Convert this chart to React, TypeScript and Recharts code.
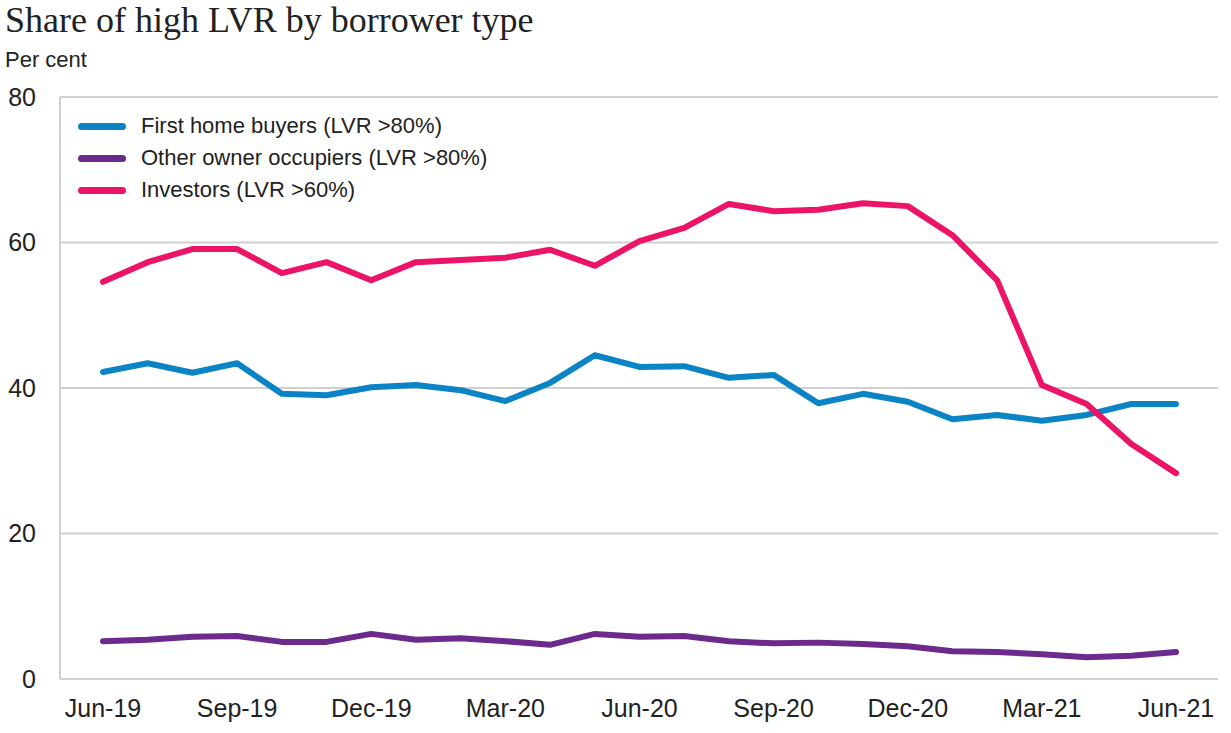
import React from 'react'
import { LineChart, Line, XAxis, YAxis, CartesianGrid, Legend } from 'recharts'

const months = [
  'Jun-19', 'Jul-19', 'Aug-19', 'Sep-19', 'Oct-19', 'Nov-19', 'Dec-19',
  'Jan-20', 'Feb-20', 'Mar-20', 'Apr-20', 'May-20', 'Jun-20', 'Jul-20',
  'Aug-20', 'Sep-20', 'Oct-20', 'Nov-20', 'Dec-20', 'Jan-21', 'Feb-21',
  'Mar-21', 'Apr-21', 'May-21', 'Jun-21',
]

const firstHomeBuyers = [
  42.2, 43.4, 42.1, 43.4, 39.2, 39.0, 40.1, 40.4, 39.7, 38.2, 40.7, 44.5, 42.9,
  43.0, 41.4, 41.8, 37.9, 39.2, 38.1, 35.7, 36.3, 35.5, 36.3, 37.8, 37.8,
]

const otherOwnerOccupiers = [
  5.2, 5.4, 5.8, 5.9, 5.1, 5.1, 6.2, 5.4, 5.6, 5.2, 4.7, 6.2, 5.8,
  5.9, 5.2, 4.9, 5.0, 4.8, 4.5, 3.8, 3.7, 3.4, 3.0, 3.2, 3.7,
]

const investors = [
  54.6, 57.3, 59.1, 59.1, 55.8, 57.3, 54.8, 57.3, 57.6, 57.9, 59.0, 56.8, 60.2,
  62.0, 65.3, 64.3, 64.5, 65.4, 65.0, 61.0, 54.8, 40.4, 37.8, 32.3, 28.3,
]

const yTicks = [0, 20, 40, 60, 80]

const series = [
  { key: 'fhb', name: 'First home buyers (LVR >80%)', color: '#0A84C4' },
  { key: 'ooc', name: 'Other owner occupiers (LVR >80%)', color: '#6B2A8C' },
  { key: 'inv', name: 'Investors (LVR >60%)', color: '#EC1467' },
]

const data = months.map((m, i) => ({
  month: m,
  fhb: firstHomeBuyers[i],
  ooc: otherOwnerOccupiers[i],
  inv: investors[i],
}))

const FONT = '"Liberation Sans", Arial, sans-serif'

const LegendBox = () => (
  <div>
    {series.map((s) => (
      <div key={s.key} style={{ display: 'flex', alignItems: 'center', height: 32 }}>
        <div style={{ width: 48, height: 7, borderRadius: 4, background: s.color, marginRight: 15 }} />
        <span style={{ fontFamily: FONT, fontSize: 22, color: '#222' }}>{s.name}</span>
      </div>
    ))}
  </div>
)

export default function App() {
  return (
    <div style={{ position: 'absolute', left: 0, top: 0, width: 1231, height: 733, background: '#fff' }}>
      <div style={{ position: 'absolute', left: 5, top: 2, lineHeight: 1, fontFamily: '"Liberation Serif", serif', fontSize: 36, color: '#222', whiteSpace: 'nowrap' }}>
        Share of high LVR by borrower type
      </div>
      <div style={{ position: 'absolute', left: 5, top: 47, fontFamily: FONT, fontSize: 22, color: '#222' }}>
        Per cent
      </div>
      <LineChart width={1231} height={733} data={data}
        margin={{ top: 97, right: 13, left: 0, bottom: 0 }}>
        <CartesianGrid vertical={false} stroke="#d0d0d0" strokeWidth={2} />
        <XAxis dataKey="month" interval={2} height={54} tickSize={0} tickMargin={20}
          padding={{ left: 43, right: 42 }}
          axisLine={{ stroke: '#d0d0d0', strokeWidth: 2 }}
          tick={{ fontSize: 25, fill: '#222', fontFamily: FONT }} />
        <YAxis domain={[0, 80]} ticks={yTicks} width={60} tickSize={0} tickMargin={24}
          axisLine={{ stroke: '#d0d0d0', strokeWidth: 2 }}
          tick={{ fontSize: 25, fill: '#222', fontFamily: FONT }} />
        <Legend layout="horizontal" verticalAlign="middle" align="center"
          wrapperStyle={{ position: 'absolute', top: 110, left: 78, width: 'auto' }}
          content={<LegendBox />} />
        {series.map((s) => (
          <Line key={s.key} dataKey={s.key} name={s.name} stroke={s.color} strokeWidth={6}
            dot={false} strokeLinejoin="round" strokeLinecap="round" isAnimationActive={false} />
        ))}
      </LineChart>
    </div>
  )
}
